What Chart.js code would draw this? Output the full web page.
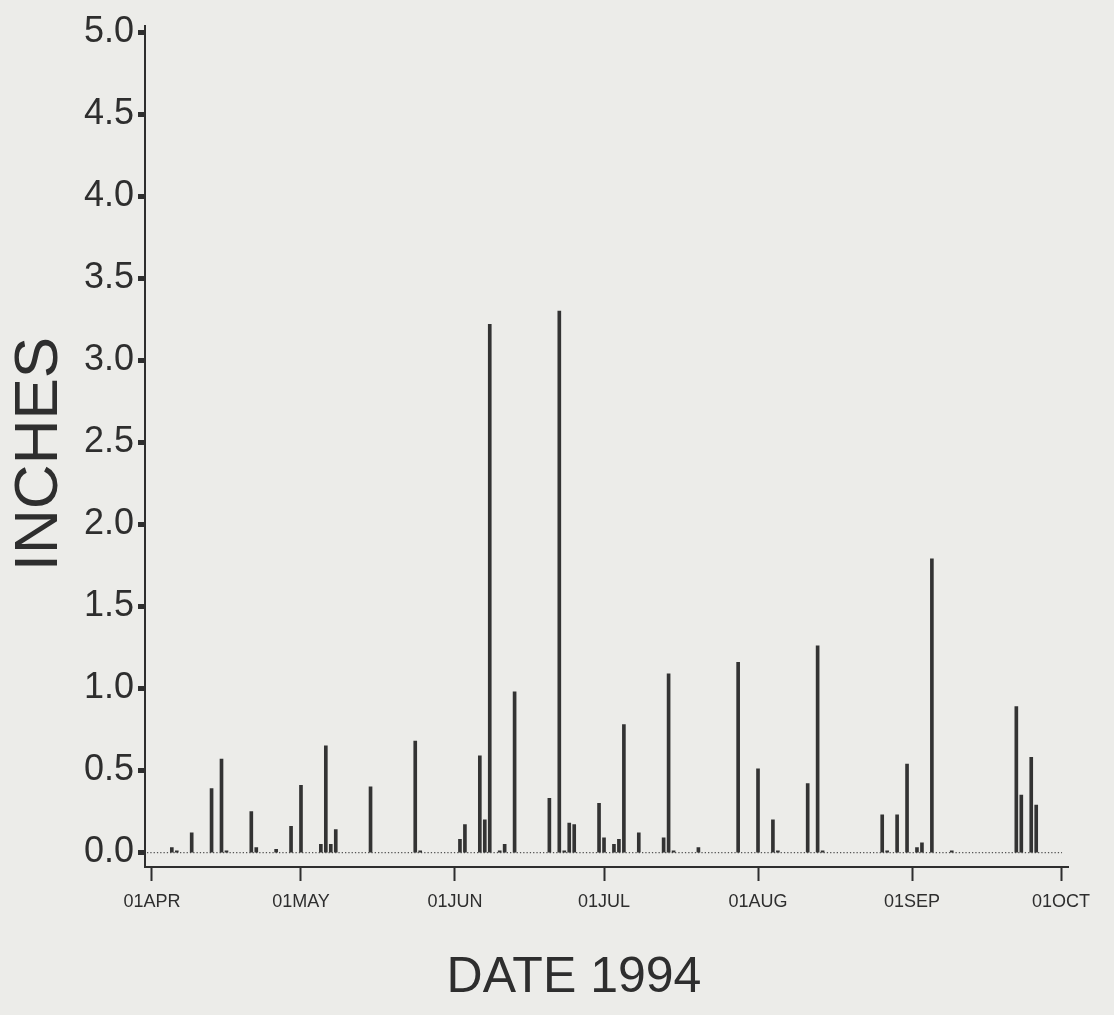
<!DOCTYPE html>
<html>
<head>
<meta charset="utf-8">
<script src="https://cdn.jsdelivr.net/npm/chart.js@4.4.0/dist/chart.umd.min.js"></script>
<style>
  html, body { margin: 0; padding: 0; background: #ecece9; }
  #wrap { width: 1114px; height: 1015px; }
</style>
</head>
<body>
<div id="wrap"><canvas id="rain-chart" width="1114" height="1015"></canvas></div>
<script>
// daily rainfall, days counted from 01APR1994 (day 0)
const rainDays = [4, 5, 8, 12, 14, 15, 20, 21, 25, 28, 30, 34, 35, 36, 37, 44,
    53, 54, 62, 63, 66, 67, 68, 70, 71, 73, 80, 82, 83, 84, 85,
    90, 91, 93, 94, 95, 98, 103, 104, 105, 110, 118,
    122, 125, 126, 132, 134, 135, 147, 148, 150, 152,
    154, 155, 157, 161, 174, 175, 177, 178];
const rainInches = [0.03, 0.01, 0.12, 0.39, 0.57, 0.01, 0.25, 0.03, 0.02, 0.16, 0.41, 0.05, 0.65, 0.05, 0.14, 0.40,
    0.68, 0.01, 0.08, 0.17, 0.59, 0.20, 3.22, 0.01, 0.05, 0.98, 0.33, 3.30, 0.01, 0.18, 0.17,
    0.30, 0.09, 0.05, 0.08, 0.78, 0.12, 0.09, 1.09, 0.01, 0.03, 1.16,
    0.51, 0.20, 0.01, 0.42, 1.26, 0.01, 0.23, 0.01, 0.23, 0.54,
    0.03, 0.06, 1.79, 0.01, 0.89, 0.35, 0.58, 0.29];

const tickDays = [0, 30, 61, 91, 122, 153, 183];
const tickLabels = ['01APR', '01MAY', '01JUN', '01JUL', '01AUG', '01SEP', '01OCT'];
const yTicks = [0.0, 0.5, 1.0, 1.5, 2.0, 2.5, 3.0, 3.5, 4.0, 4.5, 5.0];
const zeroLineDays = [-1, 183.2];

const ink = '#2e2e2e';
const fontFamily = "'Liberation Sans', Arial, sans-serif";

const rainPoints = rainDays.map((d, i) => ({ x: d, y: rainInches[i] }));
const zeroPoints = zeroLineDays.map(d => ({ x: d, y: 0 }));

// axis titles are off-centre in the original, so they are placed by hand
const axisTitles = {
    id: 'axisTitles',
    afterDraw(chart) {
        const ctx = chart.ctx;
        ctx.save();
        ctx.fillStyle = ink;
        ctx.textAlign = 'center';
        ctx.textBaseline = 'middle';
        ctx.font = '50px ' + fontFamily;
        ctx.fillText('DATE 1994', 574, 978);
        ctx.translate(40, 454);
        ctx.rotate(-Math.PI / 2);
        ctx.font = '62px ' + fontFamily;
        ctx.fillText('INCHES', 0, 0);
        ctx.restore();
    }
};

new Chart(document.getElementById('rain-chart'), {
    type: 'bar',
    data: {
        datasets: [
            {
                type: 'line',
                data: zeroPoints,
                borderColor: '#555',
                borderWidth: 1.3,
                borderDash: [1.3, 2.0],
                pointRadius: 0,
                order: 2
            },
            {
                type: 'bar',
                data: rainPoints,
                backgroundColor: '#333',
                barThickness: 3,
                order: 1
            }
        ]
    },
    options: {
        responsive: false,
        animation: false,
        devicePixelRatio: 1,
        layout: { padding: { top: 25, right: 46, left: 0, bottom: 0 } },
        plugins: { legend: { display: false }, tooltip: { enabled: false } },
        scales: {
            x: {
                type: 'linear',
                offset: false,
                min: -1.4,
                max: 184.4,
                afterBuildTicks: s => { s.ticks = tickDays.map(v => ({ value: v })); },
                afterFit: s => { s.height = 148; },
                ticks: {
                    autoSkip: false,
                    maxRotation: 0,
                    color: ink,
                    padding: 10,
                    font: { family: fontFamily, size: 18 },
                    callback: v => tickLabels[tickDays.indexOf(v)]
                },
                grid: {
                    offset: false,
                    drawOnChartArea: false,
                    tickLength: 14,
                    tickWidth: 2,
                    tickColor: ink
                },
                border: { color: ink, width: 2 }
            },
            y: {
                min: -0.088,
                max: 5.04,
                afterBuildTicks: s => { s.ticks = yTicks.map(v => ({ value: v })); },
                afterFit: s => { s.width = 145; },
                ticks: {
                    color: ink,
                    padding: 4,
                    font: { family: fontFamily, size: 36 },
                    callback: v => v.toFixed(1)
                },
                grid: {
                    drawOnChartArea: false,
                    tickLength: 7,
                    tickWidth: 5,
                    tickColor: ink
                },
                border: { color: ink, width: 2 }
            }
        }
    },
    plugins: [axisTitles]
});
</script>
</body>
</html>
